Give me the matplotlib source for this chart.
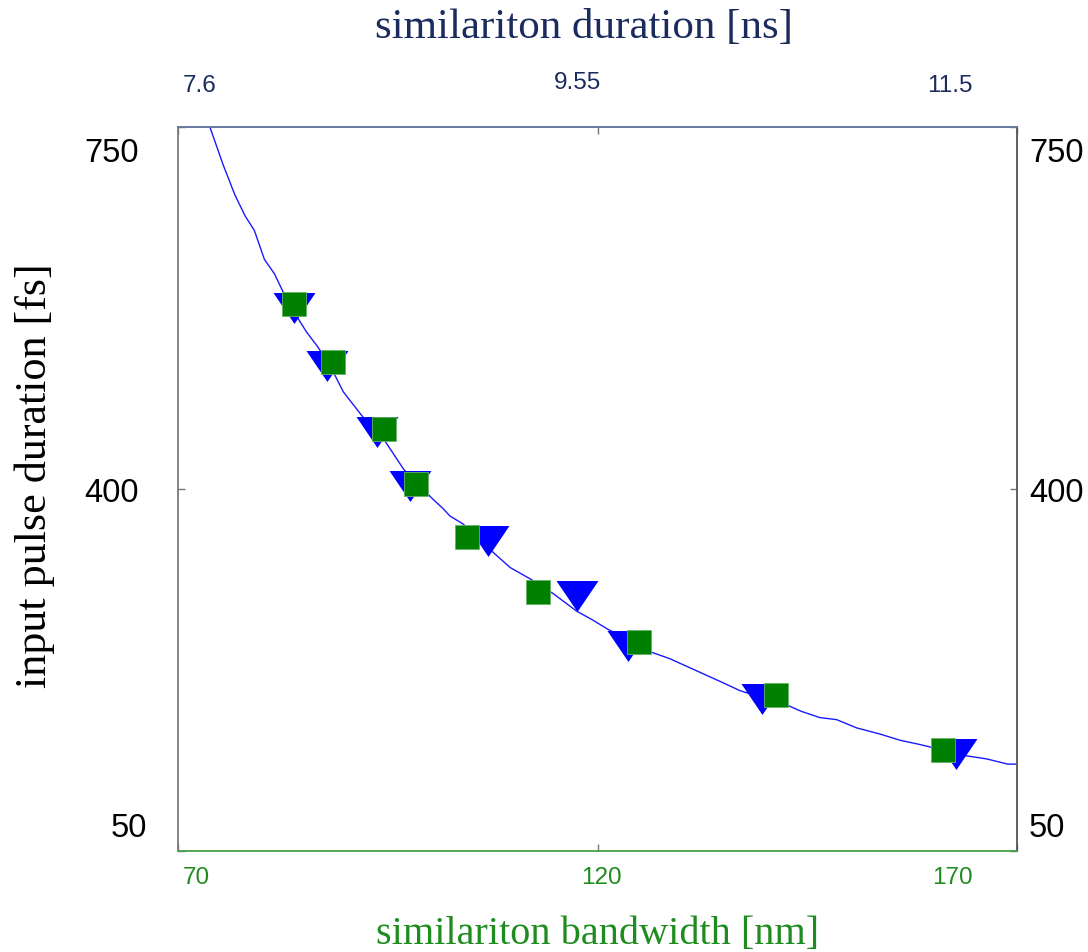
import matplotlib
matplotlib.use("Agg")
import matplotlib.pyplot as plt
from matplotlib.transforms import ScaledTranslation

# Measured similariton bandwidth [nm] vs input pulse duration [fs]
square_bw = [83.8, 88.5, 94.5, 98.4, 104.4, 112.9, 125.0, 141.3, 161.2]
square_tau = [579, 523, 458, 405, 354, 300, 252, 201, 148]

triangle_bw = [83.8, 87.8, 93.7, 97.7, 107.0, 117.6, 123.6, 139.6, 162.7]
triangle_tau = [575, 519, 455, 403, 350, 297, 248, 197, 144]

# Simulated curve
curve_bw = [73.8, 75.4, 76.8, 78.0, 79.1, 80.3, 81.5, 82.5, 84.3, 85.3, 86.7,
            88.7, 89.7, 91.9, 94.7, 96.9, 100.4, 101.6, 102.4, 104.0, 107.8,
            109.6, 112.0, 114.7, 117.5, 119.5, 121.1, 126.5, 128.6, 134.6,
            137.0, 142.9, 144.3, 146.5, 148.5, 150.9, 153.7, 156.1, 158.4,
            164.0, 166.4, 168.9, 170.0]
curve_tau = [750, 713, 684, 664, 650, 622, 608, 591, 565, 552, 537,
             510, 494, 471, 446, 419, 390, 381, 374, 366, 337,
             324, 313, 299, 282, 273, 265, 242, 236, 214,
             205, 190, 185, 179, 177, 169, 163, 157, 153,
             142, 139, 134, 134]

bw_ticks = [70, 120, 170]
dur_ticks = [7.6, 9.55, 11.5]
tau_ticks = [50, 400, 750]

navy = "#1b2b5e"
green = "#1e8c1e"

fig = plt.figure(figsize=(10.88, 9.53), dpi=100)
ax = fig.add_axes([178 / 1088, 101 / 953, 839 / 1088, 724 / 953])

ax.plot(curve_bw, curve_tau, color="#1a1aff", lw=1.0, zorder=2)
tri = [(-21, 15.5), (21, 15.5), (0, -15.5)]
ax.plot(triangle_bw, triangle_tau, ls="none", marker=tri, ms=30.2,
        color="#0000ff", mew=0, zorder=3)
ax.plot(square_bw, square_tau, ls="none", marker="s", ms=17.5,
        color="#008000", mec="#66b366", mew=0.6, zorder=4)

ax.set_xlim(70, 170)
ax.set_ylim(50, 750)

for side, col in (("left", "#7a7a7a"), ("right", "#555555"),
                  ("top", "#6a7aa0"), ("bottom", "#45a045")):
    ax.spines[side].set_color(col)
    ax.spines[side].set_linewidth(1.3)

sans = ["Liberation Sans", "DejaVu Sans"]

ax.set_xticks(bw_ticks)
ax.set_xticklabels([str(t) for t in bw_ticks], color=green, fontsize=17.5,
                   family=sans)
ax.tick_params(axis="x", direction="in", length=5, width=1, color="#777777",
               pad=11)
ax.set_yticks(tau_ticks)
ax.set_yticklabels([str(t) for t in tau_ticks], fontsize=23.5, family=sans)
ax.tick_params(axis="y", direction="in", length=5, width=1, color="#777777",
               left=True, right=True, labelleft=True, labelright=True, pad=28)


def to_dur(x):
    return 7.6 + (x - 70) * 0.039


def to_bw(d):
    return 70 + (d - 7.6) / 0.039


sec = ax.secondary_xaxis("top", functions=(to_dur, to_bw))
sec.set_xticks(dur_ticks)
sec.set_xticklabels([str(t) for t in dur_ticks], color=navy, fontsize=17.5,
                    family=sans)
sec.tick_params(axis="x", direction="in", length=5, width=1, color="#777777",
                pad=22)
sec.spines["top"].set_color("#6a7aa0")
sec.spines["top"].set_linewidth(1.3)

px = 1 / 100.0


def shift(label, dx, dy=0):
    label.set_transform(label.get_transform()
                        + ScaledTranslation(dx * px, dy * px, fig.dpi_scale_trans))


for lab, dx in zip(ax.xaxis.get_ticklabels(), (18, 4, -65)):
    shift(lab, dx)
for lab, (dx, dy) in zip(sec.xaxis.get_ticklabels(),
                         ((22, 0), (-20, 3), (-67, 0))):
    shift(lab, dx, dy)

# right-hand labels sit close to the frame
for tick, dx, dy in zip(ax.yaxis.get_major_ticks(), (8, 0, 0), (27, 0, -22)):
    tick.label2.set_fontsize(23.5)
    tick.label2.set_fontfamily(sans)
    shift(tick.label1, dx, dy)
    shift(tick.label2, -27, dy)

serif = ["Liberation Serif", "DejaVu Serif"]
ax.set_xlabel("similariton bandwidth [nm]", color=green, fontsize=29,
              family=serif, va="center")
ax.xaxis.set_label_coords(0.5, (852 - 935) / 724)
sec.set_xlabel("similariton duration [ns]", color=navy, fontsize=31,
               family=serif, va="center")
sec.xaxis.set_label_coords((584 - 178) / 839, (852 - 28) / 724,
                           transform=ax.transAxes)
ax.set_ylabel("input pulse duration [fs]", color="black", fontsize=31.8,
              family=serif, va="center")
ax.yaxis.set_label_coords((35 - 178) / 839, (852 - 476) / 724)

fig.savefig("out.png", dpi=100)
